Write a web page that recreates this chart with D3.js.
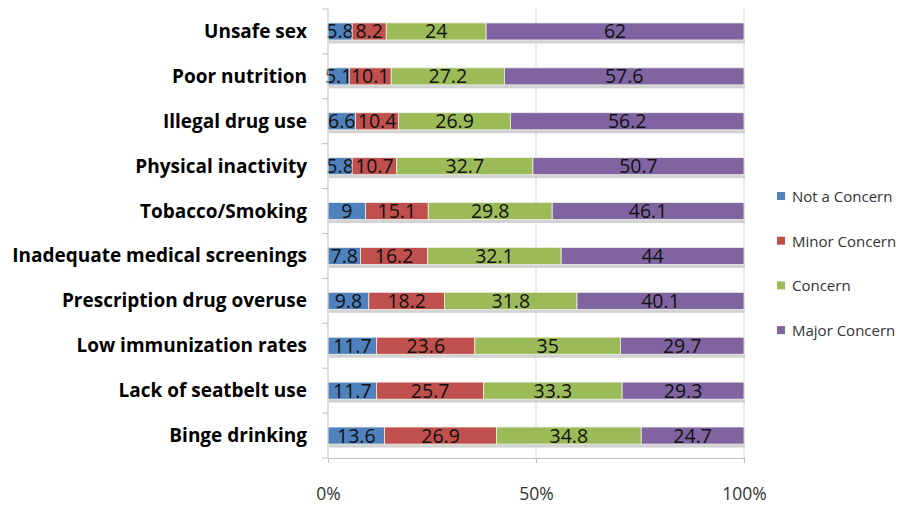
<!DOCTYPE html>
<html>
<head>
<meta charset="utf-8">
<script src="https://cdn.jsdelivr.net/npm/d3@7"></script>
<style>
  html, body { margin: 0; padding: 0; background: #fff; }
  svg { display: block; }
</style>
</head>
<body>
<svg id="chart" width="904" height="505"></svg>
<script>
// Health concerns, share of responses by level of concern
const categories = [
  "Unsafe sex", "Poor nutrition", "Illegal drug use", "Physical inactivity",
  "Tobacco/Smoking", "Inadequate medical screenings", "Prescription drug overuse",
  "Low immunization rates", "Lack of seatbelt use", "Binge drinking"
];
const seriesNames = ["Not a Concern", "Minor Concern", "Concern", "Major Concern"];
const notConcern   = [5.8, 5.1, 6.6, 5.8, 9, 7.8, 9.8, 11.7, 11.7, 13.6];
const minorConcern = [8.2, 10.1, 10.4, 10.7, 15.1, 16.2, 18.2, 23.6, 25.7, 26.9];
const concern      = [24, 27.2, 26.9, 32.7, 29.8, 32.1, 31.8, 35, 33.3, 34.8];
const majorConcern = [62, 57.6, 56.2, 50.7, 46.1, 44, 40.1, 29.7, 29.3, 24.7];
const tickValues = [0, 0.5, 1];
const tickLabels = ["0%", "50%", "100%"];

const colors = ["#4F81BD", "#C0504D", "#9BBB59", "#8064A2"];
const seriesValues = [notConcern, minorConcern, concern, majorConcern];

const rows = categories.map((c, i) => {
  const row = { category: c };
  seriesNames.forEach((s, j) => { row[s] = seriesValues[j][i]; });
  return row;
});

const svg = d3.select("#chart");
const plotLeft = 328, plotRight = 744, plotTop = 9, plotBottom = 458;

const x = d3.scaleLinear().domain([0, 1]).range([plotLeft, plotRight]);
const y = d3.scaleBand().domain(categories).range([plotTop, plotBottom]).paddingInner(0.62).paddingOuter(0.31);
const yb = d3.scaleBand().domain(categories).range([plotTop, plotBottom]);

const stack = d3.stack().keys(seriesNames).offset(d3.stackOffsetExpand);
const stacked = stack(rows);

// vertical gridlines
svg.append("g").selectAll("line")
  .data(tickValues.filter(v => v > 0))
  .join("line")
  .attr("x1", d => x(d)).attr("x2", d => x(d))
  .attr("y1", plotTop).attr("y2", plotBottom)
  .attr("stroke", "#d9d9d9").attr("stroke-width", 1);

// bar shadows
svg.append("g").selectAll("rect")
  .data(rows)
  .join("rect")
  .attr("x", x(0) + 1)
  .attr("y", d => y(d.category) + 2)
  .attr("width", x(1) - x(0))
  .attr("height", y.bandwidth() + 1.5)
  .attr("fill", "#c8c8c8")
  .attr("opacity", 0.8);

// stacked segments
const layers = svg.append("g").selectAll("g")
  .data(stacked)
  .join("g")
  .attr("fill", (d, i) => colors[i]);

layers.selectAll("rect")
  .data(d => d)
  .join("rect")
  .attr("x", d => x(d[0]))
  .attr("y", d => y(d.data.category))
  .attr("width", d => x(d[1]) - x(d[0]))
  .attr("height", y.bandwidth())
  .attr("stroke", "#eef2e6")
  .attr("stroke-width", 0.8);

// value labels
layers.each(function(layer) {
  d3.select(this).selectAll("text")
    .data(layer)
    .join("text")
    .attr("x", d => (x(d[0]) + x(d[1])) / 2)
    .attr("y", d => y(d.data.category) + y.bandwidth() / 2 + 7)
    .attr("text-anchor", "middle")
    .attr("fill", "#111")
    .attr("font-family", "Open Sans, sans-serif")
    .attr("font-size", 19.5)
    .text(d => d.data[layer.key]);
});

// left axis
svg.append("line")
  .attr("x1", plotLeft).attr("x2", plotLeft).attr("y1", plotTop).attr("y2", plotBottom)
  .attr("stroke", "#bfbfbf");
svg.append("g").selectAll("line")
  .data(d3.range(categories.length + 1))
  .join("line")
  .attr("x1", plotLeft - 6).attr("x2", plotLeft)
  .attr("y1", i => plotTop + i * yb.step()).attr("y2", i => plotTop + i * yb.step())
  .attr("stroke", "#bfbfbf");

svg.append("g").selectAll("text")
  .data(categories)
  .join("text")
  .attr("x", 307)
  .attr("y", d => yb(d) + yb.bandwidth() / 2 + 6.5)
  .attr("text-anchor", "end")
  .attr("font-family", "Open Sans, sans-serif")
  .attr("font-weight", "bold")
  .attr("font-size", 19)
  .attr("fill", "#000")
  .text(d => d);

// bottom axis
const xAxis = d3.axisBottom(x).tickValues(tickValues).tickFormat((d, i) => tickLabels[i]).tickSize(5).tickPadding(25);
const gx = svg.append("g").attr("transform", `translate(0,${plotBottom})`).call(xAxis);
gx.select(".domain").attr("stroke", "#bfbfbf");
gx.selectAll(".tick line").attr("stroke", "#bfbfbf");
gx.selectAll(".tick text")
  .attr("font-family", "Open Sans, sans-serif")
  .attr("font-size", 17.5)
  .attr("fill", "#333");

// legend
const legend = svg.append("g").selectAll("g")
  .data(seriesNames)
  .join("g")
  .attr("transform", (d, i) => `translate(777,${197 + i * 44.7})`);
legend.append("rect")
  .attr("x", 0).attr("y", -5).attr("width", 8).attr("height", 8)
  .attr("fill", (d, i) => colors[i]);
legend.append("text")
  .attr("x", 15).attr("y", 5)
  .attr("font-family", "Open Sans, sans-serif")
  .attr("font-size", 15)
  .attr("fill", "#333")
  .text(d => d);
</script>
</body>
</html>
